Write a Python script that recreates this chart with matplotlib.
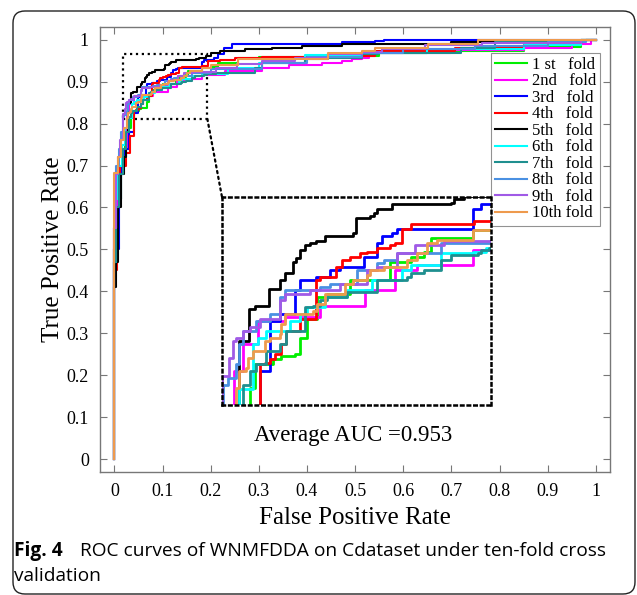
import numpy as np
import matplotlib
matplotlib.use("Agg")
import matplotlib.pyplot as plt
from matplotlib.patches import Rectangle, FancyBboxPatch, ConnectionPatch

# ---- ROC data per fold (fpr, tpr) ----
fold_labels = ['1 st   fold', '2nd   fold', '3rd   fold', '4th   fold', '5th   fold',
               '6th   fold', '7th   fold', '8th   fold', '9th   fold', '10th fold']
fold_colors = ['#00ee00', '#ff00ff', '#0000ff', '#ff0000', '#000000',
               '#00ffff', '#1f8f8f', '#4a90e2', '#a05ae6', '#ee9a4d']

fpr_1 = [0, 0, 0.004, 0.008, 0.014, 0.022, 0.030, 0.0350, 0.0383, 0.0504, 0.0559, 0.0646, 0.0679, 0.0723,
         0.0789, 0.0855, 0.1009, 0.1272, 0.1404, 0.1491, 0.1535, 0.1810, 0.20, 0.215, 0.257, 0.30, 0.44,
         0.55, 0.65, 0.85, 0.97, 1.0]
tpr_1 = [0, 0.50, 0.53, 0.62, 0.70, 0.75, 0.79, 0.8127, 0.8304, 0.8342, 0.8367, 0.8380, 0.8506, 0.8645,
         0.8810, 0.8835, 0.8936, 0.9075, 0.9113, 0.9151, 0.9252, 0.9316, 0.935, 0.945, 0.956, 0.958, 0.962,
         0.969, 0.973, 0.983, 1.0, 1.0]

fpr_2 = [0, 0, 0.006, 0.012, 0.018, 0.0251, 0.0306, 0.0405, 0.0580, 0.0811, 0.1107, 0.1305, 0.1448, 0.1810,
         0.23, 0.306, 0.362, 0.431, 0.472, 0.493, 0.514, 0.528, 0.70, 0.85, 0.95, 0.99, 1.0]
tpr_2 = [0, 0.55, 0.64, 0.68, 0.74, 0.8253, 0.8455, 0.8633, 0.8658, 0.8746, 0.8860, 0.9012, 0.9050, 0.9164,
         0.925, 0.933, 0.940, 0.945, 0.949, 0.953, 0.957, 0.969, 0.975, 0.981, 0.990, 1.0, 1.0]

fpr_3 = [0, 0, 0.009, 0.014, 0.020, 0.030, 0.0416, 0.0482, 0.0548, 0.0646, 0.0679, 0.0785, 0.0877, 0.0943,
         0.1096, 0.1184, 0.1217, 0.1283, 0.1316, 0.1810, 0.1865, 0.206, 0.215, 0.227, 0.244, 0.472, 0.541,
         0.56, 1.0]
tpr_3 = [0, 0.50, 0.62, 0.70, 0.74, 0.78, 0.8253, 0.8633, 0.8683, 0.8860, 0.8936, 0.8961, 0.9012, 0.9037,
         0.9113, 0.9214, 0.9265, 0.9290, 0.9321, 0.9467, 0.9505, 0.957, 0.965, 0.981, 0.990, 0.993, 0.997,
         1.0, 1.0]

fpr_4 = [0, 0, 0.005, 0.012, 0.025, 0.033, 0.0416, 0.0449, 0.0482, 0.0515, 0.0559, 0.0587, 0.0679, 0.0785,
         0.0811, 0.0916, 0.0954, 0.1009, 0.1074, 0.1118, 0.1184, 0.1272, 0.1305, 0.1349, 0.1404, 0.1821,
         0.195, 0.22, 0.251, 0.306, 0.444, 0.541, 0.707, 0.85, 0.97, 1.0]
tpr_4 = [0, 0.45, 0.60, 0.70, 0.73, 0.77, 0.8304, 0.8316, 0.8342, 0.8380, 0.8455, 0.8557, 0.8645, 0.8936,
         0.8961, 0.9037, 0.9088, 0.9113, 0.9139, 0.9151, 0.9176, 0.9202, 0.9214, 0.9321, 0.9354, 0.9379,
         0.949, 0.952, 0.956, 0.959, 0.962, 0.973, 0.980, 0.990, 1.0, 1.0]

fpr_5 = [0, 0, 0.004, 0.008, 0.014, 0.020, 0.024, 0.0280, 0.0346, 0.0383, 0.0477, 0.0548, 0.0580, 0.0635,
         0.0657, 0.0679, 0.0712, 0.0745, 0.0785, 0.0844, 0.1030, 0.1048, 0.1140, 0.1162, 0.1184, 0.1283,
         0.1667, 0.1689, 0.1755, 0.19, 0.20, 0.22, 0.272, 0.327, 0.389, 0.472, 0.70, 0.86, 0.98, 1.0]
tpr_5 = [0, 0.41, 0.47, 0.60, 0.68, 0.72, 0.78, 0.8481, 0.8721, 0.8746, 0.8873, 0.8936, 0.8987, 0.9075,
         0.9101, 0.9164, 0.9202, 0.9214, 0.9227, 0.9265, 0.9290, 0.9404, 0.9417, 0.9442, 0.9467, 0.9505,
         0.9518, 0.9543, 0.9564, 0.961, 0.969, 0.973, 0.977, 0.981, 0.985, 0.990, 0.993, 0.997, 1.0, 1.0]

fpr_6 = [0, 0, 0.003, 0.008, 0.015, 0.022, 0.028, 0.0372, 0.0405, 0.0460, 0.0613, 0.0679, 0.0723, 0.0844,
         0.0987, 0.1151, 0.1349, 0.1405, 0.1601, 0.1810, 0.19, 0.236, 0.30, 0.396, 0.514, 0.65, 0.85, 0.97, 1.0]
tpr_6 = [0, 0.47, 0.62, 0.70, 0.75, 0.79, 0.812, 0.8455, 0.8506, 0.8557, 0.8633, 0.8683, 0.8734, 0.8810,
         0.8860, 0.8936, 0.9012, 0.9050, 0.9139, 0.9151, 0.9176, 0.933, 0.945, 0.964, 0.969, 0.977, 0.988,
         1.0, 1.0]

fpr_7 = [0, 0, 0.003, 0.010, 0.018, 0.025, 0.0306, 0.0350, 0.0394, 0.0460, 0.0548, 0.0587, 0.0712, 0.0767,
         0.0811, 0.0855, 0.0987, 0.1184, 0.1382, 0.1404, 0.1491, 0.1601, 0.1667, 0.1843, 0.1865, 0.1919,
         0.21, 0.293, 0.306, 0.396, 0.444, 0.514, 0.548, 0.72, 0.79, 0.97, 1.0]
tpr_7 = [0, 0.47, 0.60, 0.68, 0.74, 0.78, 0.8152, 0.8253, 0.8304, 0.8405, 0.8455, 0.8557, 0.8734, 0.8746,
         0.8784, 0.8810, 0.8848, 0.8936, 0.8961, 0.8987, 0.9012, 0.9088, 0.9126, 0.9139, 0.9164, 0.9176,
         0.920, 0.933, 0.945, 0.953, 0.957, 0.965, 0.969, 0.981, 0.993, 1.0, 1.0]

fpr_8 = [0, 0, 0.004, 0.010, 0.014, 0.0174, 0.0207, 0.0262, 0.0284, 0.0306, 0.0394, 0.0482, 0.0548, 0.0580,
         0.0811, 0.0877, 0.1052, 0.1184, 0.1228, 0.1316, 0.1601, 0.20, 0.306, 0.40, 0.514, 0.60, 0.75, 0.90,
         0.98, 1.0]
tpr_8 = [0, 0.55, 0.70, 0.74, 0.78, 0.8152, 0.8202, 0.8304, 0.8455, 0.8557, 0.8633, 0.8683, 0.8810, 0.8860,
         0.8886, 0.8911, 0.9012, 0.9063, 0.9088, 0.9139, 0.9214, 0.930, 0.945, 0.958, 0.969, 0.977, 0.985,
         0.993, 1.0, 1.0]

fpr_9 = [0, 0, 0.004, 0.008, 0.012, 0.0170, 0.0218, 0.0240, 0.0262, 0.0306, 0.0350, 0.0416, 0.0548, 0.0580,
         0.0745, 0.0943, 0.1118, 0.1184, 0.1316, 0.1436, 0.1623, 0.21, 0.254, 0.306, 0.375, 0.444, 0.514,
         0.555, 0.645, 0.763, 0.97, 1.0]
tpr_9 = [0, 0.55, 0.68, 0.72, 0.76, 0.8220, 0.8354, 0.8481, 0.8506, 0.8557, 0.8582, 0.8645, 0.8785, 0.8835,
         0.8860, 0.8911, 0.9012, 0.9037, 0.9139, 0.9202, 0.9227, 0.932, 0.941, 0.949, 0.957, 0.965, 0.971,
         0.977, 0.988, 0.992, 1.0, 1.0]

fpr_10 = [0, 0, 0.008, 0.014, 0.020, 0.0262, 0.0284, 0.0328, 0.0339, 0.0372, 0.0449, 0.0482, 0.0548, 0.0559,
          0.0580, 0.0767, 0.0789, 0.0844, 0.0976, 0.1030, 0.1118, 0.1140, 0.1228, 0.1382, 0.1448, 0.1514,
          0.1579, 0.1810, 0.20, 0.257, 0.444, 0.514, 0.541, 0.652, 0.756, 1.0]
tpr_10 = [0, 0.683, 0.72, 0.76, 0.79, 0.8127, 0.8253, 0.8278, 0.8354, 0.8405, 0.8481, 0.8506, 0.8531, 0.8607,
          0.8683, 0.8708, 0.8759, 0.8835, 0.8911, 0.8936, 0.8974, 0.9012, 0.9037, 0.9088, 0.9139, 0.9214,
          0.9240, 0.9316, 0.940, 0.953, 0.967, 0.973, 0.979, 0.990, 0.998, 1.0]

fprs = [fpr_1, fpr_2, fpr_3, fpr_4, fpr_5, fpr_6, fpr_7, fpr_8, fpr_9, fpr_10]
tprs = [tpr_1, tpr_2, tpr_3, tpr_4, tpr_5, tpr_6, tpr_7, tpr_8, tpr_9, tpr_10]

ticks = [0, 0.1, 0.2, 0.3, 0.4, 0.5, 0.6, 0.7, 0.8, 0.9, 1]
tick_labels = ['0', '0.1', '0.2', '0.3', '0.4', '0.5', '0.6', '0.7', '0.8', '0.9', '1']
auc_text = 'Average AUC =0.953'

# zoom window
zoom_x = (0.017, 0.193)
zoom_y = (0.811, 0.966)
inset_y = (0.800, 0.956)

serif = 'Liberation Serif'
sans = 'Open Sans'

fig = plt.figure(figsize=(6.37, 5.95), dpi=100)

# rounded journal frame
frame = FancyBboxPatch((13, 1), 622, 583, boxstyle="round,pad=0,rounding_size=12",
                       transform=None, fill=False, ec='#222222', lw=1.0)
fig.patches.append(frame)

ax = fig.add_axes([0.157, 0.2067, 0.801, 0.748])
for f, t, c, lab in zip(fprs, tprs, fold_colors, fold_labels):
    ax.step(f, t, where='post', color=c, lw=1.5, label=lab)

ax.set_xlim(-0.03, 1.03)
ax.set_ylim(-0.03, 1.03)
ax.set_xticks(ticks)
ax.set_yticks(ticks)
ax.set_xticklabels(tick_labels, fontfamily=serif, fontsize=13)
ax.set_yticklabels(tick_labels, fontfamily=serif, fontsize=13)
ax.tick_params(direction='in', length=5, top=True, right=True, color='#777777', pad=8)
for s in ax.spines.values():
    s.set_color('#777777')
    s.set_linewidth(1.0)
ax.set_xlabel('False Positive Rate', fontfamily=serif, fontsize=18, labelpad=5)
ax.set_ylabel('True Positive Rate', fontfamily=serif, fontsize=18, labelpad=2)

ax.add_patch(Rectangle((zoom_x[0], zoom_y[0]), zoom_x[1] - zoom_x[0], zoom_y[1] - zoom_y[0],
                       fill=False, ls=':', lw=1.6, ec='black'))
ax.text(0.496, 0.057, auc_text, fontfamily=serif, fontsize=16.5, ha='center', va='center')

leg = ax.legend(loc='upper right', bbox_to_anchor=(0.98, 0.942), borderaxespad=0,
                prop={'family': serif, 'size': 12}, handlelength=1.9, handletextpad=0.3,
                labelspacing=0.03, borderpad=0.25, frameon=True, fancybox=False)
leg.get_frame().set_edgecolor('#777777')
leg.get_frame().set_linewidth(0.8)

# inset zoom
axins = fig.add_axes([0.3485, 0.3193, 0.4223, 0.3496])
for f, t, c in zip(fprs, tprs, fold_colors):
    axins.step(f, t, where='post', color=c, lw=2.0)
axins.set_xlim(*zoom_x)
axins.set_ylim(*inset_y)
axins.set_xticks([])
axins.set_yticks([])
for s in axins.spines.values():
    s.set_linestyle(':')
    s.set_linewidth(1.8)
    s.set_color('black')

con = ConnectionPatch(xyA=(zoom_x[1], zoom_y[0]), coordsA='data', axesA=ax,
                      xyB=(0, 1), coordsB='axes fraction', axesB=axins,
                      ls=':', lw=1.6, color='black')
fig.add_artist(con)

# caption
fig.text(14 / 637, 1 - 556 / 595, 'Fig. 4', fontsize=13.8, fontfamily=sans, fontweight='bold',
         va='baseline')
fig.text(80 / 637, 1 - 556 / 595, 'ROC curves of WNMFDDA on Cdataset under ten-fold cross',
         fontsize=13.8, fontfamily=sans, va='baseline')
fig.text(14 / 637, 1 - 581 / 595, 'validation', fontsize=13.8, fontfamily=sans, va='baseline')

fig.savefig('out.png', dpi=100)
